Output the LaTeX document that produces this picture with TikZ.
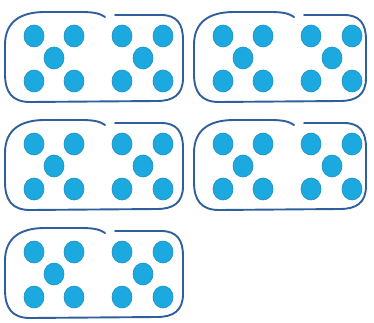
\documentclass[tikz,border=0pt]{standalone}
\definecolor{outl}{HTML}{2F5F9C}
\definecolor{dotc}{HTML}{1CA9E0}
\definecolor{dotedge}{HTML}{1890C4}
\tikzset{
  outline/.style={draw=outl, line width=1.9pt, line cap=round, line join=round},
  dotfill/.style={fill=dotc, draw=dotedge, line width=0.6pt}
}
\newcommand\myblock[3]{%
  \begin{scope}[shift={(#1,#2)}]
    \draw[outline] (115,15) -- (#3-22,15) .. controls (#3-6,15) and (#3,24) .. (#3,40)
      -- (#3,78) .. controls (#3,95) and (#3-10,101) .. (#3-26,101)
      -- (30,102) .. controls (12,102) and (5,92) .. (5,74)
      -- (5,45) .. controls (5,22) and (20,12) .. (45,12)
      -- (82,12) .. controls (95,12) and (101,14) .. (105,17);
    \foreach \cx/\cy in {34/36,74/36,54/58,34/81,74/81,122/36,163/36,143/58,122/81,163/81}
      \path[dotfill] (\cx,\cy) ellipse [x radius=10, y radius=11];
  \end{scope}}
\begin{document}
\begin{tikzpicture}[x=1pt,y=-1pt]
  \useasboundingbox (0,0) rectangle (374,323);
  \myblock{0}{0}{183}
  \myblock{189}{0}{177}
  \myblock{0}{108}{183}
  \myblock{189}{108}{177}
  \myblock{0}{216}{183}
\end{tikzpicture}
\end{document}
